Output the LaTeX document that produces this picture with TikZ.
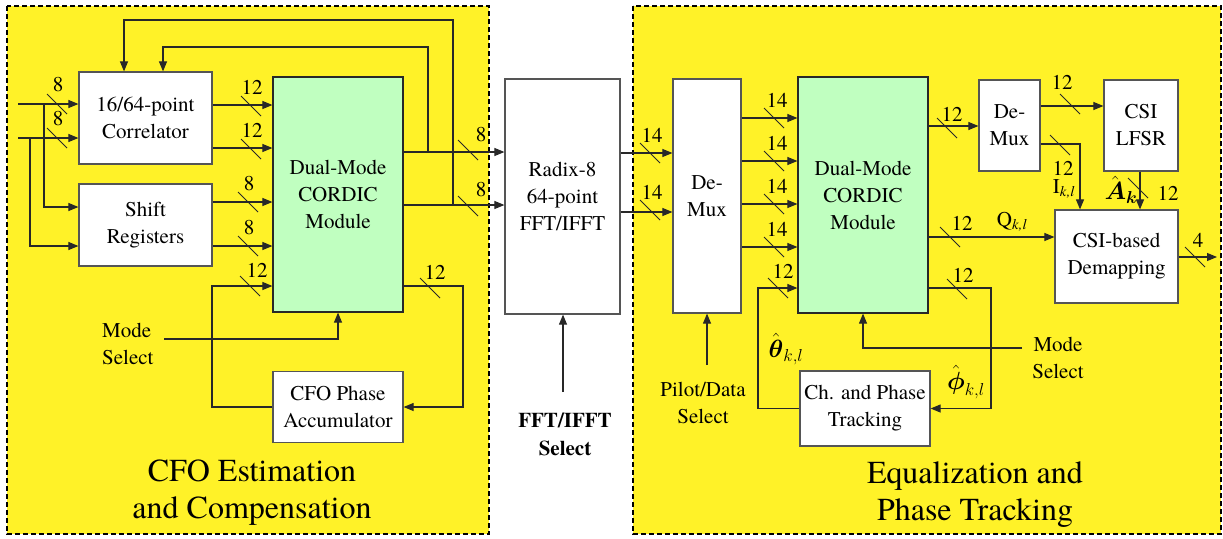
\documentclass[tikz,border=0pt]{standalone}
\usepackage{amsmath}
\usepackage{fontspec}
\IfFontExistsTF{TeX Gyre Termes}
  {\setmainfont{TeX Gyre Termes}}
  {\setmainfont{Liberation Serif}}
\usetikzlibrary{arrows.meta}

\definecolor{panel}{RGB}{255,242,40}
\definecolor{cordic}{RGB}{192,255,192}
\definecolor{wire}{RGB}{40,40,40}
\definecolor{edge}{RGB}{85,85,85}

% short diagonal bus-width marker crossing a wire, with its width label
\newcommand{\busmark}[4]{%
  \draw[slashmark] (#1)+(-10,-10) -- +(10,10);
  \node[lbl] (#4) at (#2) {#3};}

\begin{document}
\begin{tikzpicture}[x=1pt,y=-1pt,
  font=\rmfamily\fontsize{21}{27}\selectfont,
  block/.style={draw=edge,line width=1.2pt,fill=white,align=center,inner sep=0pt},
  cordicbox/.style={block,fill=cordic,draw=wire},
  wireline/.style={draw=wire,line width=1.1pt},
  bus/.style={wireline,-{Triangle[length=10pt,width=8pt]}},
  slashmark/.style={draw=wire,line width=0.8pt},
  panelbox/.style={fill=panel,draw=black,line width=2pt,dash pattern=on 5pt off 3pt},
  title/.style={font=\rmfamily\fontsize{32}{37}\selectfont,align=center},
  lbl/.style={inner sep=0pt},
  mathlbl/.style={inner sep=0pt,font=\fontsize{24}{28}\selectfont}
]
\useasboundingbox (0,0) rectangle (1223,538);

% ---------- panels ----------
\draw[panelbox] (7,6) rectangle (489,534);
\draw[panelbox] (633,6) rectangle (1221,534);

% ---------- CFO estimation blocks ----------
\node[block,minimum width=133pt,minimum height=92pt] (corr) at (145.5,118) {16/64-point\\Correlator};
\node[block,minimum width=133pt,minimum height=82pt] (shift) at (145.5,225) {Shift\\Registers};
\node[cordicbox,minimum width=130pt,minimum height=235pt] (cordL) at (338,194.5) {Dual-Mode\\CORDIC\\Module};
\node[block,minimum width=130pt,minimum height=71pt] (acc) at (338,407) {CFO Phase\\Accumulator};

% ---------- FFT ----------
\node[block,minimum width=115pt,minimum height=235pt] (fft) at (562.5,196.5) {Radix-8\\64-point\\FFT/IFFT};

% ---------- equalization blocks ----------
\node[block,minimum width=68pt,minimum height=234pt] (dmx) at (707,196) {De-\\Mux};
\node[cordicbox,minimum width=130pt,minimum height=236pt] (cordR) at (863,195) {Dual-Mode\\CORDIC\\Module};
\node[block,minimum width=61pt,minimum height=91pt] (dmx2) at (1009.5,125.5) {De-\\Mux};
\node[block,minimum width=74pt,minimum height=91pt] (lfsr) at (1141,125.5) {CSI\\LFSR};
\node[block,minimum width=123pt,minimum height=93pt] (demap) at (1116.5,256.5) {CSI-based\\Demapping};
\node[block,minimum width=130pt,minimum height=75pt] (track) at (865,408.5) {Ch. and Phase\\Tracking};

% ---------- free ends ----------
\coordinate (in1) at (18,104);
\coordinate (in2) at (18,138);
\coordinate (j1) at (44,104);
\coordinate (j2) at (30,138);
\coordinate (fb1) at (428,152);
\coordinate (fb2) at (453,205);
\coordinate (modeLend) at (164,339);
\coordinate (fsel) at (563,392);
\coordinate (psel) at (707,365);
\coordinate (modeRend) at (1022,348);
\coordinate (out) at (1217,257);

% ---------- wires, left panel ----------
\draw[bus] (in1) -- (corr.west |- in1);
\draw[bus] (in2) -- (corr.west |- in2);
\draw[bus] (j1) |- (shift.west |- 0,207);
\draw[bus] (j2) |- (shift.west |- 0,246);
\draw[bus] (corr.east |- 0,105) -- (cordL.west |- 0,105);
\draw[bus] (corr.east |- 0,148) -- (cordL.west |- 0,148);
\draw[bus] (shift.east |- 0,202) -- (cordL.west |- 0,202);
\draw[bus] (shift.east |- 0,246) -- (cordL.west |- 0,246);
\draw[bus] (cordL.east |- 0,152) -- (fft.west |- 0,152);
\draw[bus] (cordL.east |- 0,205) -- (fft.west |- 0,205);
\draw[bus] (fb1) -- (428,47) -| (corr.north -| 163,0);
\draw[bus] (fb2) -- (453,20) -| (corr.north -| 124,0);
\draw[bus] (acc.west) -- (212,407) |- (cordL.west |- 0,286);
\draw[bus] (cordL.east |- 0,286) -- (463,286) |- (acc.east);
\draw[bus] (modeLend) -| (cordL.south);

% ---------- wires, FFT ----------
\draw[bus] (fsel) -- (fsel |- fft.south);
\draw[bus] (fft.east |- 0,153) -- (dmx.west |- 0,153);
\draw[bus] (fft.east |- 0,212) -- (dmx.west |- 0,212);

% ---------- wires, right panel ----------
\draw[bus] (dmx.east |- 0,118) -- (cordR.west |- 0,118);
\draw[bus] (dmx.east |- 0,161) -- (cordR.west |- 0,161);
\draw[bus] (dmx.east |- 0,204) -- (cordR.west |- 0,204);
\draw[bus] (dmx.east |- 0,247) -- (cordR.west |- 0,247);
\draw[bus] (psel) -- (psel |- dmx.south);
\draw[bus] (track.west) -- (758,408.5) |- (cordR.west |- 0,288);
\draw[bus] (cordR.east |- 0,288) -- (991,288) |- (track.east);
\draw[bus] (modeRend) -| (cordR.south);
\draw[bus] (cordR.east |- 0,126) -- (dmx2.west |- 0,126);
\draw[bus] (cordR.east |- 0,237) -- (demap.west |- 0,237);
\draw[bus] (dmx2.east |- 0,106) -- (lfsr.west |- 0,106);
\draw[bus] (dmx2.east |- 0,144) -| (demap.north -| 1080,0);
\draw[bus] (lfsr.south -| 1140,0) -- (demap.north -| 1140,0);
\draw[bus] (demap.east |- out) -- (out);

% ---------- bus widths ----------
\busmark{57,104}{58,85}{8}{w1}
\busmark{57,138}{58,119}{8}{w2}
\busmark{251,106}{252,87}{12}{w3}
\busmark{251,149}{252,130}{12}{w4}
\busmark{248,202}{249,184}{8}{w5}
\busmark{248,246}{249,228}{8}{w6}
\busmark{250,286}{257,270}{12}{w7}
\busmark{430,288}{435,272}{12}{w8}
\busmark{468,150}{481,135}{8}{w9}
\busmark{468,206}{481,190}{8}{w10}
\busmark{650,153}{652,135}{14}{w11}
\busmark{650,210}{652,192}{14}{w12}
\busmark{774,118}{777,100}{14}{w13}
\busmark{774,161}{777,143}{14}{w14}
\busmark{774,204}{777,186}{14}{w15}
\busmark{774,247}{777,229}{14}{w16}
\busmark{778,288}{783,271}{12}{w17}
\busmark{947,128}{952,114}{12}{w18}
\busmark{950,237}{962,223}{12}{w19}
\busmark{957,289}{963,275}{12}{w20}
\busmark{1070,104}{1062,82}{12}{w21}
\busmark{1060,145}{1063,168}{12}{w22}
\busmark{1138,188}{1168,193}{12}{w23}
\busmark{1195,257}{1198,240}{4}{w24}

% ---------- signal names ----------
\node[lbl] (ikl) at (1064,189) {I\textsubscript{\itshape k,l}};
\node[lbl] (qkl) at (1012,222) {Q\textsubscript{\itshape k,l}};
\node[mathlbl] (ak) at (1121,190) {$\hat{\boldsymbol{A}}_{\boldsymbol{k}}$};
\node[mathlbl] (thk) at (786,349) {$\hat{\boldsymbol\theta}_{k,l}$};
\node[mathlbl] (phk) at (966,382) {$\hat{\boldsymbol\phi}_{k,l}$};

% ---------- control inputs ----------
\node[lbl,anchor=west,align=left] (modeL) at (102,344) {Mode\\Select};
\node[lbl,align=center] (modeR) at (1058,358) {Mode\\Select};
\node[lbl,align=center] (pilot) at (703,403) {Pilot/Data\\Select};
\node[lbl,align=center,font=\rmfamily\fontsize{21}{28}\selectfont\bfseries] (fftsel) at (565,434) {FFT/IFFT\\Select};

% ---------- panel titles ----------
\node[title] (tL) at (252,493) {CFO Estimation\\and Compensation};
\node[title] (tR) at (975,495) {Equalization and\\Phase Tracking};
\end{tikzpicture}
\end{document}
